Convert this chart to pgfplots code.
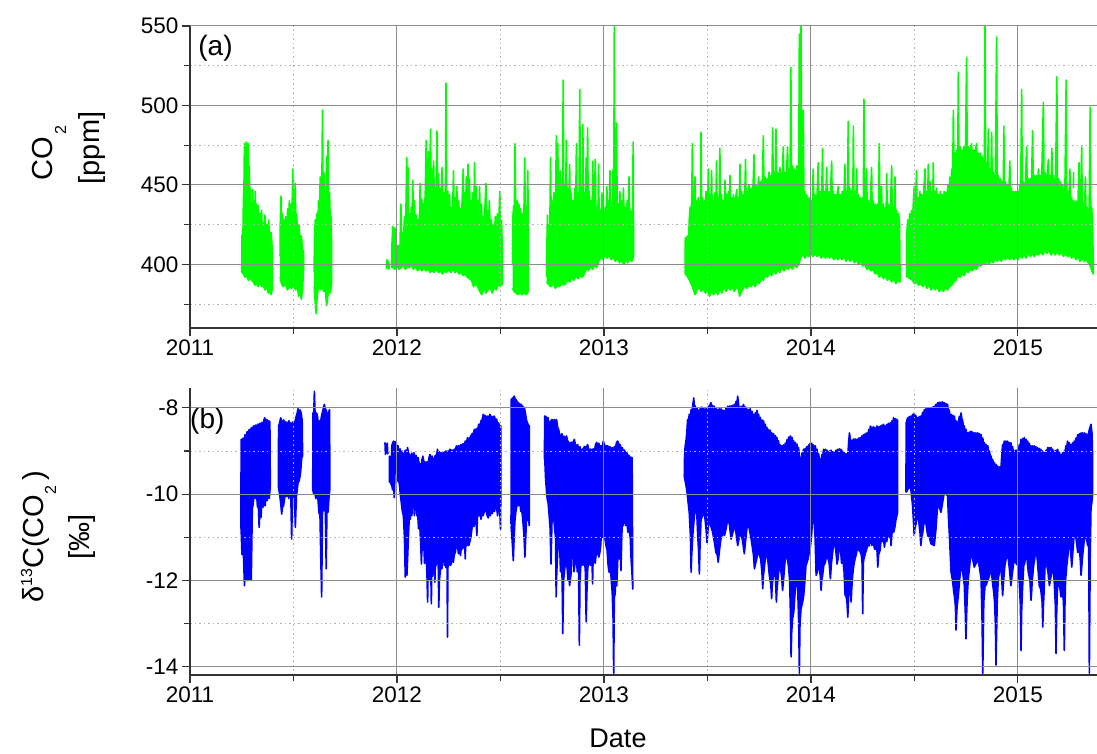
\documentclass[border=0pt]{standalone}
\usepackage{fontspec}
\setmainfont{Liberation Sans}
\usepackage{pgfplots}
\pgfplotsset{compat=1.18}
\definecolor{cgreen}{RGB}{0,255,0}
\definecolor{cblue}{RGB}{0,0,255}
\pgfplotsset{
  myax/.style={
    axis on top,
    axis lines*=left,
    axis line style={draw=black!80, line width=1.4pt},
    tick align=outside,
    major tick length=8pt, minor tick length=6pt,
    every tick/.style={draw=black!80, line width=1.1pt},
    grid=both,
    major grid style={draw=black!45, line width=1pt, solid},
    minor grid style={draw=black!30, line width=0.9pt, dash pattern=on 1.5pt off 3pt},
    xmin=2011, xmax=2015.382,
    xtick={2011,2012,2013,2014,2015},
    minor xtick={2011.5,2012.5,2013.5,2014.5},
    tick label style={font=\fontsize{22.5}{26}\selectfont, text=black},
    /pgf/number format/assume math mode=true,
    /pgf/number format/1000 sep={},
    width=907pt, scale only axis,
  },
  gseg/.style={draw=cgreen, fill=cgreen, line width=1.6pt, line join=round, mark=none},
  gline/.style={draw=cgreen, line width=1.6pt, line join=round, mark=none},
  bseg/.style={draw=cblue, fill=cblue, line width=1.6pt, line join=round, mark=none},
  bline/.style={draw=cblue, line width=1.6pt, line join=round, mark=none},
}
\begin{document}
\begin{tikzpicture}
\useasboundingbox (0pt,0pt) rectangle (1097pt,753pt);
% ---------------- top panel -----------------
\begin{axis}[myax, at={(190pt,425pt)}, anchor=south west, height=302pt,
  ymin=360, ymax=550, ytick={400,450,500,550}, minor ytick={375,425,475,525}]
\addplot[gseg] coordinates {(2011.250,395)(2011.251,418)(2011.256,420)(2011.258,440)(2011.261,452)(2011.263,476)(2011.265,455)(2011.268,470)(2011.270,452)(2011.272,477)(2011.274,456)(2011.277,466)(2011.279,450)(2011.281,476)(2011.283,455)(2011.286,462)(2011.289,440)(2011.292,448)(2011.295,425)(2011.298,436)(2011.300,420)(2011.303,447)(2011.306,425)(2011.309,440)(2011.312,422)(2011.315,446)(2011.318,425)(2011.322,438)(2011.326,420)(2011.330,437)(2011.334,418)(2011.338,432)(2011.342,419)(2011.346,434)(2011.350,417)(2011.354,426)(2011.358,418)(2011.362,431)(2011.366,415)(2011.370,425)(2011.375,414)(2011.380,428)(2011.386,412)(2011.392,420)(2011.397,410)(2011.398,385)(2011.392,381)(2011.386,384)(2011.378,382)(2011.370,386)(2011.362,384)(2011.354,387)(2011.346,386)(2011.338,389)(2011.330,386)(2011.322,388)(2011.314,387)(2011.306,389)(2011.298,390)(2011.290,392)(2011.282,390)(2011.274,393)(2011.266,392)(2011.258,394)(2011.250,395)};
\addplot[gseg] coordinates {(2011.435,405)(2011.436,425)(2011.440,443)(2011.443,425)(2011.447,432)(2011.451,420)(2011.455,428)(2011.459,418)(2011.463,430)(2011.467,421)(2011.472,435)(2011.476,422)(2011.480,440)(2011.484,425)(2011.489,438)(2011.492,430)(2011.495,446)(2011.497,460)(2011.499,432)(2011.503,440)(2011.505,428)(2011.508,451)(2011.511,425)(2011.515,432)(2011.520,420)(2011.526,425)(2011.532,415)(2011.538,418)(2011.543,410)(2011.548,408)(2011.549,398)(2011.544,385)(2011.538,378)(2011.532,383)(2011.525,380)(2011.518,386)(2011.510,384)(2011.500,387)(2011.490,385)(2011.480,386)(2011.470,384)(2011.460,388)(2011.450,386)(2011.442,388)(2011.435,392)};
\addplot[gseg] coordinates {(2011.600,395)(2011.601,415)(2011.605,428)(2011.609,418)(2011.613,432)(2011.617,420)(2011.621,440)(2011.625,428)(2011.629,455)(2011.633,435)(2011.637,448)(2011.640,497)(2011.643,440)(2011.647,458)(2011.650,432)(2011.654,445)(2011.657,430)(2011.660,468)(2011.663,440)(2011.667,478)(2011.670,435)(2011.674,445)(2011.678,425)(2011.682,430)(2011.684,410)(2011.684,388)(2011.678,382)(2011.672,385)(2011.666,380)(2011.660,374)(2011.654,384)(2011.646,383)(2011.638,386)(2011.630,384)(2011.622,387)(2011.614,380)(2011.610,369)(2011.606,374)(2011.600,386)};
\addplot[gline] coordinates {(2011.950,397)(2011.951,403)(2011.955,398)(2011.958,402)(2011.961,397)(2011.963,401)};
\addplot[gseg] coordinates {(2011.974,398)(2011.975,411)(2011.980,424)(2011.985,415)(2011.990,423)(2011.995,410)(2012.000,412)(2012.005,406)(2012.010,412)(2012.014,408)(2012.019,438)(2012.022,412)(2012.027,420)(2012.031,414)(2012.036,430)(2012.040,418)(2012.044,440)(2012.047,467)(2012.050,425)(2012.053,461)(2012.056,420)(2012.060,432)(2012.064,418)(2012.069,436)(2012.072,425)(2012.076,453)(2012.080,428)(2012.085,440)(2012.089,422)(2012.094,431)(2012.099,420)(2012.103,428)(2012.107,420)(2012.112,451)(2012.115,426)(2012.120,441)(2012.124,430)(2012.128,438)(2012.132,428)(2012.137,447)(2012.141,478)(2012.144,432)(2012.148,446)(2012.152,471)(2012.155,433)(2012.159,460)(2012.162,485)(2012.165,436)(2012.169,460)(2012.173,432)(2012.177,465)(2012.181,437)(2012.185,448)(2012.189,434)(2012.193,484)(2012.196,438)(2012.201,457)(2012.205,436)(2012.209,448)(2012.213,434)(2012.218,461)(2012.222,437)(2012.227,445)(2012.230,436)(2012.234,439)(2012.237,514)(2012.240,440)(2012.245,446)(2012.249,430)(2012.254,444)(2012.258,428)(2012.262,436)(2012.266,430)(2012.270,440)(2012.273,459)(2012.276,432)(2012.281,442)(2012.285,430)(2012.289,449)(2012.293,430)(2012.298,440)(2012.303,428)(2012.308,435)(2012.312,428)(2012.316,446)(2012.320,460)(2012.323,432)(2012.327,445)(2012.331,430)(2012.335,455)(2012.339,430)(2012.343,463)(2012.346,432)(2012.350,454)(2012.354,428)(2012.358,440)(2012.362,426)(2012.366,445)(2012.371,427)(2012.375,464)(2012.378,428)(2012.382,449)(2012.386,425)(2012.391,440)(2012.395,424)(2012.399,449)(2012.403,424)(2012.408,438)(2012.412,423)(2012.417,430)(2012.421,420)(2012.426,440)(2012.430,451)(2012.433,422)(2012.438,434)(2012.442,419)(2012.446,440)(2012.451,418)(2012.456,428)(2012.460,416)(2012.465,425)(2012.470,415)(2012.475,430)(2012.480,416)(2012.485,432)(2012.490,414)(2012.494,435)(2012.497,446)(2012.500,420)(2012.505,428)(2012.510,405)(2012.510,388)(2012.500,386)(2012.490,388)(2012.480,384)(2012.470,386)(2012.460,382)(2012.450,386)(2012.440,384)(2012.430,382)(2012.420,385)(2012.410,381)(2012.400,383)(2012.390,386)(2012.380,388)(2012.370,386)(2012.360,390)(2012.350,391)(2012.340,392)(2012.330,394)(2012.320,393)(2012.310,395)(2012.300,394)(2012.290,396)(2012.280,395)(2012.270,397)(2012.260,395)(2012.250,397)(2012.240,395)(2012.230,396)(2012.220,394)(2012.210,396)(2012.200,395)(2012.190,397)(2012.180,395)(2012.170,396)(2012.160,395)(2012.150,397)(2012.140,396)(2012.130,398)(2012.120,396)(2012.110,398)(2012.100,396)(2012.090,399)(2012.080,397)(2012.070,400)(2012.060,398)(2012.050,399)(2012.040,397)(2012.030,400)(2012.020,398)(2012.010,397)(2012.000,399)(2011.990,397)(2011.980,398)(2011.974,398)};
\addplot[gseg] coordinates {(2012.559,400)(2012.560,430)(2012.564,437)(2012.567,432)(2012.570,476)(2012.573,440)(2012.577,436)(2012.581,440)(2012.585,432)(2012.589,438)(2012.593,428)(2012.597,435)(2012.601,428)(2012.605,432)(2012.609,426)(2012.613,430)(2012.617,467)(2012.620,430)(2012.624,436)(2012.628,428)(2012.632,459)(2012.634,425)(2012.634,383)(2012.625,381)(2012.615,382)(2012.605,381)(2012.595,382)(2012.585,381)(2012.575,382)(2012.565,383)(2012.559,385)};
\addplot[gseg] coordinates {(2012.723,392)(2012.724,410)(2012.727,431)(2012.730,415)(2012.734,425)(2012.738,418)(2012.742,467)(2012.745,428)(2012.749,440)(2012.753,425)(2012.758,445)(2012.762,428)(2012.766,440)(2012.770,481)(2012.773,432)(2012.777,476)(2012.780,435)(2012.784,445)(2012.788,459)(2012.791,434)(2012.795,448)(2012.799,436)(2012.803,516)(2012.806,438)(2012.810,446)(2012.814,432)(2012.818,478)(2012.821,434)(2012.825,448)(2012.829,432)(2012.834,463)(2012.837,434)(2012.841,445)(2012.845,430)(2012.850,440)(2012.854,432)(2012.859,448)(2012.863,434)(2012.867,476)(2012.870,436)(2012.875,445)(2012.879,432)(2012.883,510)(2012.886,436)(2012.890,448)(2012.894,430)(2012.898,488)(2012.901,432)(2012.906,445)(2012.910,430)(2012.914,467)(2012.917,432)(2012.921,486)(2012.924,434)(2012.929,446)(2012.933,430)(2012.938,440)(2012.942,428)(2012.946,465)(2012.949,430)(2012.954,440)(2012.958,466)(2012.961,428)(2012.966,436)(2012.970,424)(2012.974,463)(2012.977,426)(2012.982,434)(2012.986,422)(2012.990,445)(2012.994,424)(2012.998,432)(2013.002,424)(2013.006,436)(2013.010,426)(2013.014,449)(2013.017,428)(2013.021,440)(2013.025,428)(2013.029,459)(2013.032,430)(2013.036,436)(2013.040,428)(2013.044,460)(2013.047,432)(2013.050,550)(2013.053,434)(2013.057,444)(2013.061,489)(2013.064,430)(2013.069,438)(2013.073,426)(2013.077,446)(2013.080,428)(2013.085,440)(2013.089,424)(2013.094,448)(2013.098,426)(2013.103,436)(2013.107,424)(2013.112,440)(2013.116,426)(2013.121,455)(2013.124,428)(2013.129,434)(2013.133,424)(2013.138,430)(2013.141,477)(2013.143,407)(2013.143,405)(2013.135,402)(2013.125,404)(2013.115,401)(2013.105,403)(2013.095,400)(2013.085,403)(2013.075,401)(2013.065,404)(2013.055,402)(2013.045,405)(2013.035,403)(2013.025,406)(2013.015,404)(2013.005,406)(2012.995,403)(2012.985,405)(2012.975,402)(2012.965,398)(2012.955,400)(2012.945,397)(2012.935,399)(2012.925,396)(2012.915,398)(2012.905,394)(2012.895,392)(2012.885,393)(2012.875,391)(2012.865,393)(2012.855,390)(2012.845,392)(2012.835,389)(2012.825,390)(2012.815,388)(2012.805,387)(2012.795,388)(2012.785,386)(2012.775,387)(2012.765,385)(2012.755,388)(2012.745,386)(2012.735,387)(2012.723,389)};
\addplot[gseg] coordinates {(2013.392,394)(2013.393,417)(2013.398,412)(2013.403,418)(2013.408,410)(2013.412,428)(2013.416,436)(2013.420,430)(2013.424,440)(2013.427,476)(2013.430,434)(2013.434,442)(2013.437,432)(2013.440,455)(2013.443,432)(2013.447,440)(2013.451,428)(2013.455,442)(2013.459,430)(2013.463,438)(2013.466,430)(2013.469,483)(2013.472,432)(2013.476,442)(2013.480,428)(2013.485,440)(2013.489,430)(2013.493,446)(2013.497,432)(2013.501,440)(2013.504,460)(2013.507,432)(2013.511,444)(2013.515,430)(2013.520,459)(2013.523,432)(2013.528,440)(2013.532,430)(2013.536,445)(2013.540,432)(2013.544,465)(2013.547,432)(2013.552,442)(2013.556,432)(2013.560,473)(2013.563,434)(2013.568,444)(2013.572,430)(2013.577,440)(2013.581,432)(2013.585,453)(2013.588,434)(2013.593,444)(2013.597,432)(2013.601,446)(2013.605,434)(2013.609,456)(2013.612,434)(2013.617,442)(2013.621,432)(2013.626,444)(2013.630,434)(2013.635,440)(2013.641,447)(2013.644,434)(2013.649,442)(2013.653,436)(2013.657,463)(2013.660,436)(2013.665,446)(2013.669,436)(2013.674,444)(2013.679,436)(2013.684,466)(2013.687,438)(2013.692,446)(2013.696,438)(2013.701,450)(2013.706,440)(2013.711,448)(2013.716,440)(2013.721,452)(2013.725,469)(2013.728,442)(2013.733,450)(2013.738,447)(2013.742,444)(2013.747,455)(2013.751,442)(2013.756,452)(2013.761,444)(2013.766,456)(2013.770,481)(2013.773,446)(2013.778,455)(2013.782,446)(2013.787,454)(2013.792,446)(2013.797,458)(2013.802,446)(2013.807,456)(2013.811,448)(2013.815,486)(2013.818,450)(2013.823,458)(2013.827,448)(2013.831,485)(2013.834,450)(2013.839,458)(2013.844,448)(2013.850,461)(2013.853,450)(2013.858,457)(2013.862,450)(2013.866,474)(2013.869,452)(2013.874,458)(2013.879,450)(2013.883,460)(2013.887,474)(2013.890,452)(2013.895,460)(2013.899,452)(2013.903,524)(2013.906,452)(2013.911,462)(2013.915,452)(2013.919,460)(2013.923,459)(2013.927,454)(2013.932,462)(2013.936,452)(2013.941,458)(2013.944,545)(2013.947,455)(2013.952,550)(2013.955,448)(2013.959,455)(2013.963,497)(2013.966,440)(2013.971,446)(2013.975,436)(2013.980,444)(2013.985,434)(2013.990,442)(2013.995,434)(2014.000,440)(2014.005,434)(2014.011,460)(2014.014,436)(2014.019,444)(2014.024,434)(2014.029,442)(2014.035,464)(2014.038,436)(2014.043,446)(2014.048,436)(2014.052,444)(2014.056,473)(2014.059,438)(2014.064,446)(2014.068,436)(2014.072,444)(2014.076,461)(2014.079,436)(2014.084,446)(2014.089,436)(2014.094,444)(2014.100,465)(2014.103,438)(2014.108,446)(2014.113,436)(2014.118,444)(2014.123,436)(2014.128,446)(2014.132,449)(2014.136,436)(2014.141,444)(2014.146,436)(2014.151,446)(2014.156,436)(2014.160,444)(2014.164,463)(2014.167,438)(2014.172,446)(2014.176,438)(2014.180,490)(2014.183,438)(2014.188,448)(2014.193,436)(2014.198,446)(2014.202,438)(2014.205,487)(2014.208,438)(2014.213,446)(2014.217,436)(2014.221,460)(2014.224,436)(2014.229,444)(2014.234,434)(2014.239,442)(2014.244,434)(2014.249,442)(2014.253,436)(2014.256,504)(2014.259,436)(2014.264,442)(2014.269,460)(2014.272,432)(2014.277,440)(2014.282,432)(2014.287,440)(2014.293,461)(2014.296,432)(2014.301,440)(2014.306,430)(2014.311,438)(2014.316,430)(2014.321,438)(2014.326,430)(2014.330,476)(2014.333,432)(2014.337,440)(2014.341,449)(2014.344,430)(2014.349,438)(2014.354,430)(2014.359,436)(2014.363,430)(2014.366,457)(2014.369,430)(2014.374,438)(2014.379,428)(2014.384,436)(2014.390,462)(2014.393,428)(2014.398,436)(2014.402,428)(2014.406,455)(2014.409,428)(2014.414,434)(2014.419,426)(2014.424,432)(2014.428,424)(2014.430,400)(2014.430,389)(2014.420,390)(2014.410,388)(2014.400,391)(2014.390,389)(2014.380,392)(2014.370,390)(2014.360,393)(2014.350,391)(2014.340,394)(2014.330,392)(2014.320,395)(2014.310,394)(2014.300,397)(2014.290,396)(2014.280,398)(2014.270,397)(2014.260,400)(2014.250,399)(2014.240,402)(2014.230,400)(2014.220,403)(2014.210,401)(2014.200,404)(2014.190,402)(2014.180,404)(2014.170,402)(2014.160,405)(2014.150,403)(2014.140,405)(2014.130,403)(2014.120,405)(2014.110,403)(2014.100,406)(2014.090,404)(2014.080,406)(2014.070,404)(2014.060,406)(2014.050,404)(2014.040,407)(2014.030,405)(2014.020,407)(2014.010,405)(2014.000,407)(2013.990,405)(2013.980,406)(2013.970,404)(2013.960,407)(2013.950,404)(2013.940,400)(2013.930,398)(2013.920,400)(2013.910,397)(2013.900,399)(2013.890,397)(2013.880,398)(2013.870,396)(2013.860,398)(2013.850,395)(2013.840,397)(2013.830,394)(2013.820,396)(2013.810,393)(2013.800,395)(2013.790,392)(2013.780,393)(2013.770,390)(2013.760,391)(2013.750,388)(2013.740,389)(2013.730,386)(2013.720,388)(2013.710,386)(2013.700,387)(2013.690,385)(2013.680,387)(2013.670,384)(2013.660,382)(2013.655,380)(2013.650,384)(2013.640,386)(2013.630,383)(2013.620,386)(2013.610,384)(2013.600,386)(2013.590,383)(2013.580,386)(2013.570,382)(2013.560,385)(2013.550,381)(2013.540,384)(2013.530,381)(2013.520,383)(2013.510,380)(2013.500,384)(2013.490,382)(2013.480,385)(2013.470,383)(2013.460,386)(2013.450,384)(2013.440,381)(2013.430,385)(2013.420,388)(2013.410,391)(2013.400,393)(2013.392,394)};
\addplot[gseg] coordinates {(2014.462,392)(2014.463,420)(2014.468,428)(2014.472,420)(2014.477,432)(2014.481,422)(2014.486,434)(2014.490,426)(2014.495,440)(2014.499,449)(2014.502,430)(2014.506,440)(2014.510,459)(2014.513,432)(2014.518,442)(2014.522,434)(2014.526,446)(2014.530,436)(2014.535,444)(2014.540,436)(2014.545,446)(2014.551,460)(2014.554,436)(2014.559,446)(2014.563,436)(2014.567,463)(2014.570,438)(2014.575,452)(2014.579,436)(2014.584,446)(2014.588,436)(2014.591,464)(2014.594,438)(2014.599,446)(2014.603,436)(2014.607,448)(2014.611,436)(2014.616,444)(2014.620,436)(2014.625,446)(2014.630,436)(2014.635,444)(2014.640,436)(2014.644,446)(2014.648,436)(2014.652,445)(2014.657,438)(2014.661,450)(2014.666,442)(2014.671,455)(2014.676,448)(2014.680,460)(2014.685,456)(2014.688,497)(2014.691,462)(2014.696,470)(2014.700,462)(2014.705,472)(2014.709,464)(2014.712,521)(2014.715,466)(2014.720,474)(2014.724,464)(2014.729,472)(2014.733,466)(2014.738,474)(2014.742,466)(2014.747,476)(2014.752,530)(2014.755,468)(2014.760,474)(2014.765,466)(2014.770,472)(2014.776,476)(2014.779,466)(2014.784,472)(2014.789,464)(2014.794,472)(2014.800,476)(2014.803,464)(2014.808,470)(2014.813,462)(2014.818,470)(2014.823,460)(2014.828,468)(2014.833,458)(2014.838,466)(2014.841,550)(2014.844,458)(2014.849,464)(2014.853,454)(2014.857,485)(2014.860,452)(2014.865,460)(2014.869,450)(2014.873,483)(2014.876,450)(2014.881,458)(2014.886,448)(2014.891,456)(2014.897,543)(2014.900,450)(2014.905,456)(2014.910,446)(2014.915,454)(2014.920,446)(2014.925,452)(2014.929,446)(2014.932,487)(2014.935,446)(2014.940,452)(2014.945,444)(2014.950,450)(2014.955,442)(2014.961,465)(2014.964,440)(2014.969,448)(2014.974,440)(2014.979,446)(2014.984,438)(2014.989,446)(2014.994,438)(2014.999,446)(2015.004,440)(2015.009,450)(2015.013,442)(2015.018,510)(2015.021,444)(2015.026,452)(2015.031,444)(2015.036,452)(2015.042,474)(2015.045,446)(2015.050,454)(2015.055,446)(2015.060,454)(2015.065,448)(2015.071,484)(2015.074,448)(2015.079,456)(2015.084,448)(2015.089,456)(2015.094,448)(2015.099,460)(2015.104,448)(2015.109,456)(2015.114,448)(2015.118,473)(2015.123,502)(2015.126,450)(2015.131,458)(2015.136,448)(2015.141,456)(2015.147,466)(2015.150,448)(2015.155,456)(2015.160,448)(2015.164,473)(2015.167,448)(2015.172,456)(2015.177,446)(2015.182,454)(2015.188,518)(2015.191,446)(2015.196,454)(2015.201,444)(2015.206,452)(2015.211,444)(2015.216,450)(2015.221,442)(2015.227,448)(2015.233,516)(2015.236,440)(2015.241,446)(2015.246,438)(2015.251,460)(2015.255,436)(2015.260,442)(2015.265,434)(2015.270,440)(2015.275,434)(2015.280,440)(2015.285,432)(2015.290,438)(2015.295,464)(2015.298,432)(2015.303,440)(2015.308,474)(2015.311,432)(2015.316,438)(2015.321,430)(2015.326,455)(2015.329,430)(2015.334,436)(2015.339,428)(2015.344,434)(2015.349,499)(2015.352,430)(2015.356,436)(2015.360,428)(2015.364,400)(2015.364,394)(2015.357,396)(2015.350,399)(2015.340,401)(2015.330,403)(2015.320,402)(2015.310,404)(2015.300,402)(2015.290,405)(2015.280,403)(2015.270,406)(2015.260,404)(2015.250,406)(2015.240,405)(2015.230,407)(2015.220,405)(2015.210,408)(2015.200,406)(2015.190,408)(2015.180,406)(2015.170,408)(2015.160,406)(2015.150,409)(2015.140,407)(2015.130,409)(2015.120,406)(2015.110,408)(2015.100,406)(2015.090,407)(2015.080,405)(2015.070,407)(2015.060,405)(2015.050,407)(2015.040,404)(2015.030,406)(2015.020,404)(2015.010,406)(2015.000,403)(2014.990,405)(2014.980,403)(2014.970,405)(2014.960,403)(2014.950,405)(2014.940,403)(2014.930,405)(2014.920,402)(2014.910,404)(2014.900,402)(2014.890,404)(2014.880,401)(2014.870,403)(2014.860,400)(2014.850,402)(2014.840,400)(2014.830,401)(2014.820,399)(2014.810,400)(2014.800,397)(2014.790,398)(2014.780,396)(2014.770,397)(2014.760,395)(2014.750,396)(2014.740,393)(2014.730,394)(2014.720,392)(2014.710,393)(2014.700,390)(2014.690,389)(2014.680,387)(2014.670,386)(2014.660,384)(2014.650,386)(2014.640,383)(2014.630,385)(2014.620,383)(2014.610,386)(2014.600,384)(2014.590,386)(2014.580,384)(2014.570,387)(2014.560,385)(2014.550,388)(2014.540,386)(2014.530,388)(2014.520,387)(2014.510,389)(2014.500,388)(2014.490,390)(2014.480,391)(2014.470,392)(2014.462,392)};
\addplot[gline] coordinates {(2015.268,448)(2015.269,458)};
\node[anchor=north west, inner sep=0pt, font=\fontsize{28}{30}\selectfont] at (rel axis cs:0.009,0.97) {(a)};
\end{axis}
% ---------------- bottom panel -----------------
\begin{axis}[myax, at={(190pt,78pt)}, anchor=south west, height=287pt,
  ymin=-14.19, ymax=-7.54, ytick={-14,-12,-10,-8}, minor ytick={-13,-11,-9}]
\addplot[bseg] coordinates {(2011.246,-10.8)(2011.247,-8.73)(2011.252,-8.75)(2011.257,-8.7)(2011.262,-8.9)(2011.266,-8.62)(2011.271,-8.75)(2011.276,-8.55)(2011.281,-8.62)(2011.286,-8.5)(2011.291,-8.58)(2011.296,-8.46)(2011.301,-8.55)(2011.306,-8.42)(2011.311,-8.5)(2011.316,-8.4)(2011.321,-8.48)(2011.326,-8.38)(2011.331,-8.45)(2011.336,-8.36)(2011.341,-8.42)(2011.346,-8.34)(2011.351,-8.4)(2011.356,-8.3)(2011.361,-8.23)(2011.366,-8.35)(2011.371,-8.27)(2011.376,-8.36)(2011.381,-8.3)(2011.386,-8.33)(2011.388,-9.8)(2011.383,-10.1)(2011.378,-9.9)(2011.373,-10.15)(2011.368,-10.0)(2011.363,-10.27)(2011.358,-10.05)(2011.353,-10.3)(2011.348,-10.1)(2011.343,-10.54)(2011.339,-10.2)(2011.334,-10.77)(2011.330,-10.2)(2011.326,-10.3)(2011.321,-9.95)(2011.316,-10.1)(2011.311,-9.92)(2011.306,-10.2)(2011.301,-10.35)(2011.296,-12.0)(2011.292,-11.6)(2011.288,-12.0)(2011.284,-11.5)(2011.279,-12.0)(2011.275,-11.7)(2011.271,-12.0)(2011.267,-11.8)(2011.263,-12.12)(2011.259,-11.5)(2011.255,-11.2)(2011.251,-11.4)(2011.247,-10.8)};
\addplot[bseg] coordinates {(2011.427,-9.85)(2011.428,-8.42)(2011.433,-8.35)(2011.438,-8.23)(2011.443,-8.3)(2011.448,-8.35)(2011.453,-8.28)(2011.458,-8.38)(2011.463,-8.32)(2011.468,-8.42)(2011.473,-8.35)(2011.478,-8.3)(2011.483,-8.38)(2011.488,-8.35)(2011.493,-8.4)(2011.498,-8.32)(2011.503,-8.38)(2011.508,-8.3)(2011.513,-8.2)(2011.518,-8.12)(2011.522,-8.02)(2011.527,-8.1)(2011.532,-8.05)(2011.537,-8.12)(2011.542,-8.3)(2011.544,-9.12)(2011.540,-9.15)(2011.536,-9.4)(2011.532,-9.58)(2011.527,-9.7)(2011.522,-9.73)(2011.518,-9.9)(2011.514,-10.05)(2011.509,-10.77)(2011.505,-10.1)(2011.500,-9.92)(2011.495,-10.1)(2011.491,-11.04)(2011.487,-10.0)(2011.482,-9.96)(2011.477,-10.1)(2011.472,-9.96)(2011.467,-10.05)(2011.462,-10.0)(2011.457,-10.1)(2011.452,-10.27)(2011.447,-10.3)(2011.443,-10.46)(2011.438,-10.2)(2011.433,-10.0)(2011.428,-9.85)};
\addplot[bseg] coordinates {(2011.593,-9.9)(2011.594,-8.12)(2011.598,-8.1)(2011.601,-7.62)(2011.604,-8.1)(2011.608,-8.15)(2011.612,-8.12)(2011.616,-8.2)(2011.620,-8.42)(2011.625,-8.3)(2011.630,-8.35)(2011.635,-8.2)(2011.640,-8.1)(2011.645,-8.0)(2011.649,-7.92)(2011.653,-8.02)(2011.658,-8.05)(2011.662,-8.15)(2011.666,-8.27)(2011.670,-8.1)(2011.674,-8.04)(2011.676,-9.8)(2011.676,-9.85)(2011.671,-10.1)(2011.667,-10.42)(2011.662,-10.2)(2011.658,-11.73)(2011.654,-10.4)(2011.649,-10.38)(2011.645,-10.2)(2011.640,-10.42)(2011.636,-12.38)(2011.632,-11.5)(2011.628,-10.5)(2011.623,-10.42)(2011.618,-10.1)(2011.613,-10.04)(2011.608,-10.1)(2011.603,-9.96)(2011.598,-10.0)(2011.593,-9.9)};
\addplot[bline] coordinates {(2011.942,-8.8)(2011.944,-9.08)(2011.947,-8.85)(2011.950,-9.05)(2011.953,-8.82)(2011.956,-9.08)};
\addplot[bseg] coordinates {(2011.963,-9.73)(2011.964,-9.12)(2011.968,-9.2)(2011.971,-9.58)(2011.975,-8.88)(2011.980,-8.8)(2011.985,-8.77)(2011.990,-8.9)(2011.995,-8.78)(2012.000,-8.92)(2012.005,-8.88)(2012.010,-9.05)(2012.015,-8.95)(2012.020,-9.15)(2012.025,-9.0)(2012.030,-9.15)(2012.035,-9.08)(2012.040,-8.98)(2012.045,-9.1)(2012.051,-8.92)(2012.056,-9.05)(2012.061,-9.08)(2012.066,-9.18)(2012.072,-9.05)(2012.077,-9.16)(2012.082,-9.04)(2012.087,-9.18)(2012.092,-9.1)(2012.097,-9.25)(2012.102,-9.15)(2012.107,-9.3)(2012.112,-9.3)(2012.116,-9.38)(2012.121,-9.2)(2012.125,-9.12)(2012.130,-9.25)(2012.135,-9.25)(2012.140,-9.35)(2012.145,-9.25)(2012.150,-9.31)(2012.155,-9.15)(2012.160,-9.08)(2012.165,-9.2)(2012.170,-9.12)(2012.175,-9.25)(2012.180,-9.19)(2012.185,-9.1)(2012.190,-9.12)(2012.196,-8.96)(2012.201,-9.1)(2012.206,-9.02)(2012.211,-9.14)(2012.216,-9.04)(2012.221,-9.12)(2012.226,-9.02)(2012.231,-9.1)(2012.236,-9.0)(2012.241,-9.08)(2012.246,-9.0)(2012.251,-9.02)(2012.256,-8.96)(2012.261,-8.98)(2012.266,-8.98)(2012.271,-9.0)(2012.277,-8.96)(2012.282,-8.98)(2012.287,-8.88)(2012.293,-8.92)(2012.298,-8.88)(2012.304,-8.9)(2012.309,-8.85)(2012.314,-8.88)(2012.320,-8.83)(2012.325,-8.88)(2012.330,-8.77)(2012.336,-8.8)(2012.341,-8.69)(2012.347,-8.74)(2012.352,-8.7)(2012.357,-8.65)(2012.363,-8.6)(2012.368,-8.6)(2012.374,-8.5)(2012.379,-8.52)(2012.385,-8.48)(2012.390,-8.5)(2012.395,-8.38)(2012.401,-8.42)(2012.406,-8.3)(2012.411,-8.28)(2012.417,-8.15)(2012.422,-8.2)(2012.427,-8.18)(2012.433,-8.25)(2012.438,-8.19)(2012.443,-8.25)(2012.449,-8.15)(2012.454,-8.22)(2012.459,-8.2)(2012.465,-8.25)(2012.470,-8.19)(2012.476,-8.28)(2012.481,-8.26)(2012.486,-8.36)(2012.491,-8.35)(2012.497,-8.45)(2012.502,-8.42)(2012.502,-9.8)(2012.500,-10.81)(2012.497,-10.4)(2012.491,-10.3)(2012.486,-10.5)(2012.481,-10.3)(2012.476,-10.27)(2012.471,-10.4)(2012.466,-10.3)(2012.461,-10.45)(2012.456,-10.35)(2012.451,-10.5)(2012.446,-10.38)(2012.441,-10.55)(2012.436,-10.5)(2012.431,-10.4)(2012.426,-10.35)(2012.421,-10.42)(2012.416,-10.5)(2012.411,-10.4)(2012.406,-10.58)(2012.401,-10.45)(2012.396,-10.5)(2012.391,-10.35)(2012.388,-10.6)(2012.386,-10.96)(2012.383,-10.7)(2012.378,-10.6)(2012.372,-10.75)(2012.367,-10.65)(2012.362,-10.8)(2012.357,-11.0)(2012.352,-11.1)(2012.347,-11.19)(2012.342,-10.96)(2012.337,-11.2)(2012.332,-11.05)(2012.330,-11.5)(2012.327,-11.2)(2012.322,-11.1)(2012.317,-11.27)(2012.312,-11.15)(2012.307,-11.42)(2012.302,-11.3)(2012.297,-11.38)(2012.292,-11.2)(2012.287,-11.12)(2012.282,-11.35)(2012.277,-11.4)(2012.272,-11.58)(2012.267,-11.4)(2012.262,-11.62)(2012.257,-11.65)(2012.252,-11.5)(2012.246,-11.7)(2012.244,-13.31)(2012.242,-11.65)(2012.237,-11.7)(2012.233,-11.62)(2012.229,-11.65)(2012.225,-11.04)(2012.221,-11.5)(2012.217,-11.73)(2012.213,-11.6)(2012.209,-11.8)(2012.205,-12.0)(2012.202,-12.62)(2012.199,-11.5)(2012.195,-11.19)(2012.191,-11.6)(2012.185,-11.7)(2012.183,-12.04)(2012.180,-11.5)(2012.176,-11.65)(2012.172,-11.9)(2012.168,-11.8)(2012.166,-12.54)(2012.163,-11.65)(2012.159,-11.9)(2012.155,-12.0)(2012.150,-11.9)(2012.148,-12.5)(2012.145,-11.9)(2012.141,-11.4)(2012.137,-11.35)(2012.133,-11.6)(2012.129,-11.04)(2012.125,-11.3)(2012.121,-11.2)(2012.118,-11.62)(2012.115,-11.2)(2012.112,-10.9)(2012.108,-10.5)(2012.104,-10.8)(2012.100,-10.42)(2012.096,-10.5)(2012.092,-10.2)(2012.088,-10.0)(2012.084,-10.5)(2012.080,-10.1)(2012.076,-9.96)(2012.072,-10.5)(2012.068,-10.3)(2012.064,-10.58)(2012.060,-10.5)(2012.056,-10.9)(2012.052,-11.4)(2012.048,-11.88)(2012.044,-11.5)(2012.040,-11.92)(2012.036,-11.0)(2012.031,-10.5)(2012.026,-10.4)(2012.021,-10.2)(2012.016,-10.0)(2012.011,-9.75)(2012.006,-9.65)(2012.001,-9.7)(2011.996,-9.2)(2011.991,-9.4)(2011.987,-10.08)(2011.983,-9.8)(2011.979,-9.9)(2011.975,-9.81)(2011.970,-9.75)(2011.966,-9.5)(2011.963,-9.73)};
\addplot[bseg] coordinates {(2012.551,-10.7)(2012.552,-7.81)(2012.557,-7.78)(2012.562,-7.76)(2012.567,-7.73)(2012.571,-7.8)(2012.575,-7.81)(2012.580,-7.85)(2012.585,-7.88)(2012.590,-7.9)(2012.595,-7.92)(2012.600,-7.92)(2012.605,-7.96)(2012.610,-7.98)(2012.615,-8.0)(2012.620,-8.1)(2012.625,-8.27)(2012.630,-8.35)(2012.635,-8.4)(2012.639,-8.42)(2012.639,-10.73)(2012.634,-10.5)(2012.630,-10.6)(2012.626,-10.58)(2012.622,-11.0)(2012.618,-11.46)(2012.614,-11.0)(2012.610,-10.73)(2012.606,-10.5)(2012.602,-10.35)(2012.598,-10.4)(2012.594,-10.2)(2012.590,-10.12)(2012.586,-10.27)(2012.582,-10.15)(2012.578,-10.3)(2012.574,-10.42)(2012.570,-10.6)(2012.566,-11.0)(2012.562,-11.54)(2012.558,-11.2)(2012.554,-10.9)(2012.551,-10.73)};
\addplot[bseg] coordinates {(2012.712,-9.19)(2012.714,-8.19)(2012.719,-8.2)(2012.724,-8.3)(2012.729,-8.22)(2012.734,-8.34)(2012.739,-8.35)(2012.744,-8.3)(2012.749,-8.27)(2012.755,-8.36)(2012.760,-8.27)(2012.765,-8.36)(2012.771,-8.27)(2012.776,-8.45)(2012.781,-8.5)(2012.787,-8.66)(2012.792,-8.65)(2012.797,-8.6)(2012.803,-8.72)(2012.808,-8.66)(2012.813,-8.76)(2012.819,-8.65)(2012.824,-8.76)(2012.830,-8.8)(2012.835,-8.88)(2012.840,-8.8)(2012.846,-8.8)(2012.851,-8.8)(2012.857,-8.73)(2012.862,-8.86)(2012.868,-8.88)(2012.873,-8.85)(2012.878,-8.98)(2012.884,-8.9)(2012.889,-9.02)(2012.894,-8.96)(2012.900,-8.96)(2012.905,-8.9)(2012.910,-8.9)(2012.916,-8.9)(2012.921,-8.85)(2012.926,-8.98)(2012.932,-8.96)(2012.937,-8.96)(2012.943,-9.0)(2012.948,-8.95)(2012.954,-9.02)(2012.959,-8.85)(2012.965,-8.8)(2012.970,-8.9)(2012.975,-8.82)(2012.981,-8.92)(2012.986,-8.88)(2012.992,-8.88)(2012.997,-8.77)(2013.002,-8.86)(2013.008,-8.88)(2013.013,-8.88)(2013.018,-8.88)(2013.024,-8.95)(2013.029,-8.9)(2013.035,-8.99)(2013.040,-8.92)(2013.045,-9.02)(2013.050,-8.9)(2013.056,-8.9)(2013.061,-8.8)(2013.066,-8.77)(2013.072,-8.84)(2013.077,-8.85)(2013.083,-8.92)(2013.088,-8.92)(2013.094,-9.0)(2013.099,-8.98)(2013.104,-9.05)(2013.110,-9.04)(2013.115,-9.1)(2013.120,-9.1)(2013.126,-9.15)(2013.131,-9.15)(2013.136,-9.15)(2013.139,-12.19)(2013.139,-12.2)(2013.135,-11.8)(2013.131,-11.5)(2013.127,-11.0)(2013.123,-10.9)(2013.119,-10.6)(2013.115,-10.88)(2013.110,-10.5)(2013.106,-10.73)(2013.102,-10.4)(2013.098,-10.6)(2013.094,-10.73)(2013.090,-10.5)(2013.086,-11.0)(2013.082,-11.77)(2013.078,-11.2)(2013.074,-11.5)(2013.070,-11.0)(2013.066,-11.6)(2013.062,-12.12)(2013.058,-11.9)(2013.054,-12.3)(2013.050,-12.4)(2013.047,-14.15)(2013.044,-12.88)(2013.040,-12.3)(2013.035,-11.96)(2013.030,-11.7)(2013.025,-11.81)(2013.020,-11.65)(2013.015,-11.3)(2013.010,-11.19)(2013.005,-11.04)(2013.000,-10.88)(2012.996,-10.65)(2012.992,-11.0)(2012.988,-10.88)(2012.984,-11.2)(2012.980,-11.35)(2012.975,-11.46)(2012.971,-11.2)(2012.967,-11.4)(2012.963,-11.35)(2012.958,-11.6)(2012.954,-11.5)(2012.947,-11.6)(2012.945,-12.08)(2012.942,-11.5)(2012.938,-11.6)(2012.934,-11.65)(2012.929,-11.5)(2012.922,-11.7)(2012.918,-12.2)(2012.914,-12.96)(2012.910,-11.8)(2012.906,-11.5)(2012.902,-11.6)(2012.898,-11.65)(2012.894,-11.58)(2012.889,-11.6)(2012.884,-12.0)(2012.881,-13.5)(2012.878,-12.0)(2012.875,-11.3)(2012.871,-11.8)(2012.867,-11.5)(2012.863,-11.35)(2012.859,-11.65)(2012.855,-11.8)(2012.851,-11.2)(2012.846,-11.19)(2012.842,-11.8)(2012.838,-11.96)(2012.834,-12.12)(2012.830,-11.9)(2012.826,-12.0)(2012.822,-11.7)(2012.818,-11.65)(2012.814,-11.6)(2012.810,-11.75)(2012.805,-12.0)(2012.801,-13.23)(2012.798,-12.0)(2012.794,-11.5)(2012.790,-11.8)(2012.786,-11.2)(2012.782,-10.88)(2012.778,-11.2)(2012.772,-11.8)(2012.769,-12.38)(2012.766,-11.0)(2012.762,-10.8)(2012.758,-10.6)(2012.754,-10.5)(2012.750,-10.42)(2012.747,-11.0)(2012.744,-11.62)(2012.740,-10.8)(2012.734,-10.42)(2012.730,-10.2)(2012.726,-10.12)(2012.722,-9.9)(2012.718,-9.65)(2012.714,-9.19)(2012.712,-9.19)};
\addplot[bseg] coordinates {(2013.388,-9.58)(2013.389,-9.19)(2013.392,-8.9)(2013.396,-8.77)(2013.400,-8.6)(2013.404,-8.27)(2013.408,-8.35)(2013.412,-8.15)(2013.417,-8.25)(2013.421,-8.04)(2013.425,-8.15)(2013.430,-7.9)(2013.434,-7.77)(2013.437,-8.05)(2013.441,-7.95)(2013.445,-8.12)(2013.449,-8.0)(2013.453,-8.15)(2013.457,-8.05)(2013.461,-8.2)(2013.465,-8.0)(2013.469,-8.14)(2013.473,-7.98)(2013.477,-8.12)(2013.481,-8.02)(2013.485,-8.15)(2013.489,-8.02)(2013.493,-8.45)(2013.495,-8.02)(2013.501,-8.14)(2013.505,-7.96)(2013.509,-8.08)(2013.513,-7.92)(2013.517,-7.88)(2013.521,-8.05)(2013.525,-7.94)(2013.529,-8.12)(2013.533,-7.96)(2013.537,-8.1)(2013.541,-8.0)(2013.545,-8.18)(2013.549,-8.04)(2013.553,-8.15)(2013.557,-8.02)(2013.561,-8.16)(2013.565,-8.02)(2013.569,-8.2)(2013.574,-8.05)(2013.578,-8.5)(2013.580,-8.06)(2013.586,-8.16)(2013.590,-8.0)(2013.594,-8.12)(2013.598,-7.96)(2013.602,-8.1)(2013.606,-7.96)(2013.610,-8.1)(2013.614,-7.95)(2013.618,-8.08)(2013.622,-7.94)(2013.626,-8.06)(2013.630,-7.92)(2013.634,-8.0)(2013.638,-7.85)(2013.642,-7.9)(2013.646,-7.73)(2013.650,-7.9)(2013.654,-8.05)(2013.658,-7.98)(2013.662,-8.1)(2013.666,-7.96)(2013.670,-8.05)(2013.674,-7.92)(2013.678,-8.02)(2013.682,-7.98)(2013.686,-8.4)(2013.688,-8.0)(2013.694,-8.16)(2013.698,-8.04)(2013.702,-8.15)(2013.706,-8.02)(2013.711,-8.14)(2013.715,-8.08)(2013.719,-8.25)(2013.723,-8.15)(2013.727,-8.3)(2013.731,-8.12)(2013.735,-8.2)(2013.739,-8.06)(2013.743,-8.18)(2013.747,-8.15)(2013.751,-8.3)(2013.755,-8.22)(2013.759,-8.37)(2013.763,-8.28)(2013.767,-8.42)(2013.771,-8.3)(2013.775,-8.45)(2013.779,-8.38)(2013.783,-8.52)(2013.787,-8.45)(2013.791,-8.58)(2013.795,-8.5)(2013.799,-8.65)(2013.803,-8.52)(2013.807,-8.66)(2013.811,-8.58)(2013.815,-8.7)(2013.819,-8.6)(2013.823,-8.72)(2013.827,-8.64)(2013.831,-8.8)(2013.835,-8.68)(2013.839,-8.82)(2013.843,-8.76)(2013.847,-8.92)(2013.851,-8.85)(2013.855,-8.98)(2013.859,-8.88)(2013.863,-8.96)(2013.867,-8.86)(2013.872,-8.95)(2013.876,-8.82)(2013.880,-8.9)(2013.884,-8.74)(2013.888,-8.82)(2013.892,-8.68)(2013.896,-8.76)(2013.900,-8.65)(2013.904,-8.75)(2013.908,-8.68)(2013.912,-8.82)(2013.916,-8.76)(2013.920,-8.9)(2013.924,-8.8)(2013.928,-8.92)(2013.932,-8.84)(2013.936,-8.95)(2013.940,-8.92)(2013.944,-9.15)(2013.948,-9.15)(2013.952,-9.27)(2013.956,-9.05)(2013.960,-9.1)(2013.964,-8.96)(2013.968,-9.08)(2013.972,-8.94)(2013.976,-9.04)(2013.980,-8.9)(2013.984,-9.0)(2013.988,-8.86)(2013.992,-8.95)(2013.996,-8.82)(2014.000,-8.9)(2014.004,-8.82)(2014.008,-8.95)(2014.012,-8.86)(2014.017,-8.96)(2014.021,-8.88)(2014.025,-9.02)(2014.029,-8.96)(2014.033,-9.1)(2014.037,-9.06)(2014.041,-9.2)(2014.045,-9.18)(2014.049,-9.27)(2014.053,-9.08)(2014.057,-9.12)(2014.061,-8.96)(2014.065,-9.06)(2014.069,-8.96)(2014.073,-9.08)(2014.077,-8.98)(2014.081,-9.1)(2014.089,-9.0)(2014.093,-9.12)(2014.097,-8.98)(2014.101,-9.1)(2014.105,-9.02)(2014.109,-9.14)(2014.113,-9.02)(2014.117,-9.12)(2014.121,-8.98)(2014.125,-9.08)(2014.129,-8.96)(2014.133,-9.06)(2014.137,-8.95)(2014.141,-9.08)(2014.145,-8.96)(2014.149,-9.1)(2014.153,-9.0)(2014.157,-9.12)(2014.161,-9.04)(2014.165,-9.15)(2014.170,-9.06)(2014.174,-9.18)(2014.178,-9.12)(2014.182,-8.8)(2014.186,-8.58)(2014.190,-8.72)(2014.194,-8.85)(2014.198,-8.75)(2014.202,-8.86)(2014.206,-8.72)(2014.210,-8.82)(2014.214,-8.72)(2014.218,-8.84)(2014.222,-8.73)(2014.226,-8.83)(2014.230,-8.7)(2014.234,-8.8)(2014.238,-8.69)(2014.242,-8.78)(2014.246,-8.65)(2014.250,-8.76)(2014.254,-8.62)(2014.258,-8.72)(2014.262,-8.6)(2014.266,-8.7)(2014.270,-8.58)(2014.275,-8.66)(2014.279,-8.5)(2014.283,-8.6)(2014.287,-8.42)(2014.291,-8.52)(2014.295,-8.45)(2014.299,-8.56)(2014.303,-8.44)(2014.307,-8.55)(2014.311,-8.46)(2014.315,-8.58)(2014.319,-8.42)(2014.323,-8.52)(2014.327,-8.44)(2014.331,-8.55)(2014.335,-8.42)(2014.339,-8.52)(2014.343,-8.4)(2014.347,-8.5)(2014.351,-8.38)(2014.355,-8.48)(2014.359,-8.42)(2014.363,-8.52)(2014.367,-8.38)(2014.371,-8.47)(2014.375,-8.36)(2014.379,-8.45)(2014.383,-8.35)(2014.387,-8.42)(2014.391,-8.3)(2014.395,-8.38)(2014.399,-8.23)(2014.403,-8.3)(2014.407,-8.25)(2014.411,-8.34)(2014.415,-8.27)(2014.419,-8.3)(2014.419,-10.42)(2014.415,-10.5)(2014.411,-10.58)(2014.406,-10.75)(2014.400,-10.88)(2014.395,-10.7)(2014.390,-11.0)(2014.387,-11.19)(2014.383,-10.9)(2014.377,-11.0)(2014.371,-10.96)(2014.366,-11.1)(2014.360,-11.05)(2014.355,-11.23)(2014.350,-11.0)(2014.345,-11.1)(2014.339,-11.04)(2014.334,-11.3)(2014.327,-11.4)(2014.323,-11.69)(2014.319,-11.3)(2014.313,-11.27)(2014.307,-11.27)(2014.301,-11.1)(2014.294,-11.19)(2014.288,-11.0)(2014.281,-11.2)(2014.275,-11.15)(2014.268,-11.3)(2014.264,-11.35)(2014.256,-11.5)(2014.253,-11.6)(2014.250,-12.77)(2014.247,-11.6)(2014.243,-11.4)(2014.239,-11.35)(2014.232,-11.3)(2014.226,-11.19)(2014.219,-11.4)(2014.213,-11.5)(2014.207,-11.65)(2014.201,-11.9)(2014.197,-12.2)(2014.194,-12.5)(2014.190,-12.1)(2014.186,-12.12)(2014.182,-12.4)(2014.178,-12.85)(2014.174,-12.5)(2014.169,-12.35)(2014.165,-12.35)(2014.160,-11.8)(2014.154,-11.5)(2014.148,-11.6)(2014.143,-11.3)(2014.137,-11.19)(2014.131,-11.5)(2014.126,-11.62)(2014.120,-11.3)(2014.113,-11.04)(2014.109,-11.2)(2014.105,-11.35)(2014.099,-11.6)(2014.094,-11.96)(2014.088,-11.6)(2014.083,-11.5)(2014.078,-11.45)(2014.073,-11.5)(2014.068,-11.6)(2014.062,-11.65)(2014.056,-11.9)(2014.052,-12.0)(2014.049,-12.23)(2014.045,-11.9)(2014.040,-11.65)(2014.036,-11.65)(2014.031,-11.8)(2014.025,-11.88)(2014.020,-11.0)(2014.015,-10.6)(2014.009,-10.42)(2014.004,-10.9)(2013.998,-11.2)(2013.992,-11.35)(2013.986,-11.5)(2013.980,-11.6)(2013.976,-11.65)(2013.971,-12.0)(2013.965,-12.35)(2013.960,-12.5)(2013.955,-12.6)(2013.952,-12.65)(2013.947,-13.0)(2013.944,-14.15)(2013.941,-13.0)(2013.936,-12.2)(2013.932,-12.0)(2013.928,-11.96)(2013.923,-12.3)(2013.917,-12.73)(2013.911,-12.9)(2013.907,-13.2)(2013.904,-13.77)(2013.901,-12.8)(2013.897,-12.0)(2013.891,-11.65)(2013.886,-11.5)(2013.880,-11.35)(2013.874,-11.6)(2013.869,-11.9)(2013.863,-12.23)(2013.858,-11.9)(2013.852,-11.7)(2013.847,-11.65)(2013.842,-11.9)(2013.836,-12.2)(2013.833,-12.5)(2013.829,-12.0)(2013.823,-11.65)(2013.818,-11.9)(2013.813,-12.1)(2013.810,-12.42)(2013.806,-12.1)(2013.799,-11.88)(2013.791,-11.5)(2013.783,-11.35)(2013.775,-11.7)(2013.770,-11.9)(2013.767,-12.19)(2013.763,-11.8)(2013.757,-11.5)(2013.750,-11.4)(2013.743,-11.35)(2013.738,-11.5)(2013.733,-11.6)(2013.727,-11.73)(2013.722,-11.4)(2013.716,-11.2)(2013.711,-11.04)(2013.702,-10.8)(2013.694,-10.65)(2013.686,-11.0)(2013.678,-11.38)(2013.670,-11.1)(2013.662,-10.88)(2013.654,-11.0)(2013.646,-11.19)(2013.638,-10.9)(2013.630,-10.73)(2013.622,-10.9)(2013.614,-11.04)(2013.606,-10.7)(2013.598,-10.58)(2013.590,-10.8)(2013.582,-10.96)(2013.574,-10.9)(2013.565,-11.04)(2013.558,-11.3)(2013.552,-11.58)(2013.547,-11.4)(2013.541,-11.35)(2013.533,-11.1)(2013.525,-10.88)(2013.517,-10.75)(2013.509,-10.58)(2013.503,-10.8)(2013.498,-11.12)(2013.493,-10.8)(2013.485,-10.42)(2013.477,-10.5)(2013.469,-10.58)(2013.464,-11.2)(2013.461,-11.85)(2013.457,-11.3)(2013.453,-10.96)(2013.449,-10.5)(2013.445,-10.19)(2013.437,-10.5)(2013.429,-10.96)(2013.424,-11.4)(2013.421,-11.81)(2013.418,-11.0)(2013.412,-10.42)(2013.400,-9.9)(2013.388,-9.58)};
\addplot[bseg] coordinates {(2014.459,-9.96)(2014.460,-8.35)(2014.463,-8.3)(2014.467,-8.23)(2014.471,-8.32)(2014.475,-8.2)(2014.479,-8.3)(2014.483,-8.19)(2014.487,-8.28)(2014.491,-8.15)(2014.495,-8.25)(2014.499,-8.12)(2014.503,-8.22)(2014.507,-8.18)(2014.511,-8.3)(2014.515,-8.23)(2014.519,-8.32)(2014.523,-8.2)(2014.527,-8.3)(2014.531,-8.19)(2014.535,-8.22)(2014.540,-8.1)(2014.544,-8.18)(2014.548,-8.04)(2014.552,-8.12)(2014.556,-8.02)(2014.560,-8.12)(2014.564,-8.0)(2014.568,-8.1)(2014.572,-8.02)(2014.576,-8.12)(2014.580,-8.0)(2014.584,-8.1)(2014.588,-7.98)(2014.592,-8.08)(2014.596,-7.96)(2014.600,-8.05)(2014.604,-7.92)(2014.608,-8.02)(2014.612,-7.88)(2014.616,-7.98)(2014.620,-7.87)(2014.624,-7.96)(2014.628,-7.87)(2014.632,-7.95)(2014.636,-7.86)(2014.640,-7.96)(2014.644,-7.88)(2014.648,-7.98)(2014.652,-7.9)(2014.656,-8.0)(2014.660,-7.92)(2014.664,-8.1)(2014.668,-8.05)(2014.672,-8.2)(2014.677,-8.15)(2014.681,-8.25)(2014.685,-8.17)(2014.689,-8.28)(2014.693,-8.19)(2014.697,-8.35)(2014.701,-8.3)(2014.705,-8.42)(2014.709,-8.35)(2014.713,-8.3)(2014.717,-8.2)(2014.721,-8.25)(2014.725,-8.12)(2014.729,-8.25)(2014.733,-8.3)(2014.737,-8.45)(2014.741,-8.42)(2014.745,-8.56)(2014.749,-8.5)(2014.753,-8.64)(2014.757,-8.58)(2014.761,-8.66)(2014.765,-8.56)(2014.769,-8.65)(2014.773,-8.54)(2014.777,-8.64)(2014.781,-8.56)(2014.785,-8.66)(2014.789,-8.58)(2014.793,-8.68)(2014.797,-8.58)(2014.801,-8.66)(2014.806,-8.58)(2014.810,-8.68)(2014.814,-8.6)(2014.818,-8.7)(2014.822,-8.62)(2014.826,-8.75)(2014.830,-8.7)(2014.834,-8.82)(2014.838,-8.81)(2014.842,-8.9)(2014.846,-8.85)(2014.850,-8.95)(2014.854,-8.88)(2014.858,-9.0)(2014.862,-9.0)(2014.866,-9.1)(2014.870,-9.12)(2014.874,-9.22)(2014.878,-9.2)(2014.882,-9.3)(2014.886,-9.27)(2014.890,-9.36)(2014.894,-9.31)(2014.898,-9.4)(2014.902,-9.35)(2014.906,-9.42)(2014.910,-9.37)(2014.914,-9.42)(2014.918,-9.38)(2014.922,-9.1)(2014.926,-8.85)(2014.930,-8.92)(2014.934,-8.77)(2014.938,-8.88)(2014.942,-8.77)(2014.946,-8.86)(2014.950,-8.77)(2014.954,-8.88)(2014.958,-8.8)(2014.962,-8.9)(2014.966,-8.81)(2014.970,-8.95)(2014.974,-8.9)(2014.978,-9.02)(2014.982,-9.0)(2014.986,-9.08)(2014.990,-8.98)(2014.994,-9.05)(2014.999,-8.96)(2015.003,-8.98)(2015.007,-8.85)(2015.011,-8.88)(2015.015,-8.73)(2015.019,-8.82)(2015.023,-8.71)(2015.027,-8.8)(2015.031,-8.69)(2015.035,-8.8)(2015.039,-8.73)(2015.043,-8.84)(2015.047,-8.77)(2015.051,-8.9)(2015.055,-8.82)(2015.059,-8.94)(2015.063,-8.88)(2015.067,-8.98)(2015.071,-8.88)(2015.075,-8.98)(2015.079,-8.88)(2015.083,-9.0)(2015.087,-8.9)(2015.091,-9.02)(2015.095,-8.92)(2015.099,-9.04)(2015.103,-8.94)(2015.107,-9.06)(2015.111,-8.96)(2015.115,-9.08)(2015.119,-9.0)(2015.123,-9.1)(2015.128,-9.04)(2015.132,-9.08)(2015.136,-8.98)(2015.140,-9.04)(2015.144,-8.92)(2015.148,-9.02)(2015.152,-8.92)(2015.156,-9.04)(2015.160,-8.92)(2015.164,-9.05)(2015.168,-8.96)(2015.172,-9.08)(2015.176,-9.0)(2015.180,-9.1)(2015.184,-8.98)(2015.188,-9.08)(2015.192,-8.96)(2015.196,-9.1)(2015.200,-9.02)(2015.204,-9.14)(2015.208,-9.08)(2015.212,-9.15)(2015.216,-9.04)(2015.220,-9.1)(2015.224,-9.0)(2015.228,-9.0)(2015.232,-8.88)(2015.236,-8.9)(2015.240,-8.77)(2015.244,-8.9)(2015.248,-8.81)(2015.252,-8.94)(2015.256,-8.85)(2015.260,-8.92)(2015.264,-8.81)(2015.268,-8.9)(2015.272,-8.77)(2015.276,-8.84)(2015.280,-8.7)(2015.284,-8.76)(2015.289,-8.62)(2015.293,-8.72)(2015.297,-8.6)(2015.301,-8.7)(2015.305,-8.58)(2015.309,-8.68)(2015.313,-8.58)(2015.317,-8.68)(2015.321,-8.58)(2015.325,-8.7)(2015.329,-8.6)(2015.333,-8.7)(2015.337,-8.62)(2015.341,-8.6)(2015.345,-8.5)(2015.349,-8.45)(2015.353,-8.38)(2015.358,-8.6)(2015.361,-9.19)(2015.361,-9.96)(2015.357,-10.2)(2015.353,-10.31)(2015.349,-11.5)(2015.345,-14.15)(2015.342,-11.2)(2015.337,-11.19)(2015.330,-11.0)(2015.321,-11.04)(2015.313,-11.4)(2015.308,-11.7)(2015.305,-11.88)(2015.301,-11.5)(2015.295,-11.2)(2015.289,-11.35)(2015.280,-11.0)(2015.272,-10.88)(2015.266,-11.3)(2015.260,-11.69)(2015.254,-11.3)(2015.248,-11.04)(2015.242,-11.4)(2015.236,-11.65)(2015.230,-12.0)(2015.227,-12.6)(2015.224,-13.62)(2015.220,-12.5)(2015.214,-12.2)(2015.208,-12.38)(2015.201,-12.1)(2015.195,-11.96)(2015.190,-12.3)(2015.187,-12.8)(2015.184,-13.69)(2015.181,-12.6)(2015.175,-12.0)(2015.168,-11.65)(2015.160,-11.9)(2015.152,-12.12)(2015.145,-11.8)(2015.138,-11.6)(2015.131,-11.65)(2015.126,-12.3)(2015.123,-12.6)(2015.120,-13.08)(2015.117,-12.5)(2015.110,-12.2)(2015.103,-12.12)(2015.095,-11.6)(2015.087,-11.19)(2015.081,-11.5)(2015.076,-11.65)(2015.069,-12.0)(2015.066,-12.3)(2015.063,-12.46)(2015.058,-12.0)(2015.050,-11.81)(2015.044,-11.5)(2015.039,-11.35)(2015.033,-11.6)(2015.028,-11.65)(2015.022,-12.2)(2015.018,-12.7)(2015.015,-13.62)(2015.012,-12.6)(2015.006,-12.0)(2014.999,-11.65)(2014.990,-11.6)(2014.982,-11.5)(2014.974,-11.8)(2014.966,-12.12)(2014.958,-11.7)(2014.950,-11.35)(2014.943,-11.5)(2014.937,-11.65)(2014.931,-12.0)(2014.926,-12.35)(2014.922,-12.0)(2014.918,-11.65)(2014.911,-11.8)(2014.905,-11.96)(2014.900,-12.5)(2014.897,-13.2)(2014.894,-13.96)(2014.891,-13.0)(2014.887,-12.5)(2014.883,-12.27)(2014.876,-12.0)(2014.870,-11.65)(2014.862,-11.9)(2014.854,-12.0)(2014.847,-12.1)(2014.841,-12.12)(2014.835,-12.5)(2014.832,-13.5)(2014.830,-14.15)(2014.827,-13.0)(2014.822,-11.96)(2014.814,-11.7)(2014.806,-11.5)(2014.798,-11.6)(2014.789,-11.69)(2014.781,-11.5)(2014.773,-11.35)(2014.766,-11.7)(2014.760,-11.96)(2014.755,-12.4)(2014.752,-12.8)(2014.749,-13.35)(2014.746,-12.8)(2014.741,-12.12)(2014.733,-11.8)(2014.725,-11.65)(2014.718,-12.0)(2014.712,-12.35)(2014.706,-12.6)(2014.703,-12.9)(2014.701,-13.15)(2014.698,-12.6)(2014.694,-12.4)(2014.690,-12.27)(2014.684,-12.0)(2014.677,-11.81)(2014.673,-11.4)(2014.669,-10.96)(2014.664,-10.5)(2014.660,-10.04)(2014.652,-10.0)(2014.644,-9.96)(2014.636,-10.2)(2014.628,-10.42)(2014.620,-10.3)(2014.612,-10.27)(2014.604,-10.8)(2014.596,-11.19)(2014.588,-11.17)(2014.580,-11.15)(2014.572,-11.0)(2014.564,-10.96)(2014.556,-10.7)(2014.548,-10.58)(2014.540,-10.9)(2014.535,-11.0)(2014.531,-11.19)(2014.527,-10.9)(2014.520,-10.6)(2014.515,-10.42)(2014.507,-10.7)(2014.502,-10.8)(2014.499,-10.96)(2014.495,-10.6)(2014.491,-10.27)(2014.483,-9.9)(2014.475,-9.81)(2014.467,-9.9)(2014.459,-9.96)};
\node[anchor=north west, inner sep=0pt, font=\fontsize{28}{30}\selectfont] at (rel axis cs:0.0,0.93) {(b)};
\end{axis}
% ---------------- labels -----------------
\node[rotate=90, anchor=base, inner sep=0pt, font=\fontsize{29}{32}\selectfont] at (52pt,600pt) {CO\hspace{3pt}\raisebox{-14pt}{\fontsize{16}{16}\selectfont 2}};
\node[rotate=90, anchor=base, inner sep=0pt, font=\fontsize{29}{32}\selectfont] at (99pt,605pt) {[ppm]};
\node[rotate=90, anchor=base, inner sep=0pt, font=\fontsize{29}{32}\selectfont] at (43pt,216pt) {δ\raisebox{11pt}{\fontsize{16}{16}\selectfont 13}C(CO\raisebox{-13pt}{\fontsize{16}{16}\selectfont 2}\hspace{5pt})};
\node[rotate=90, anchor=base, inner sep=0pt, font=\fontsize{29}{32}\selectfont] at (89pt,216pt) {[‰]};
\node[anchor=base, inner sep=0pt, font=\fontsize{27}{30}\selectfont] at (618pt,6pt) {Date};
\end{tikzpicture}
\end{document}
